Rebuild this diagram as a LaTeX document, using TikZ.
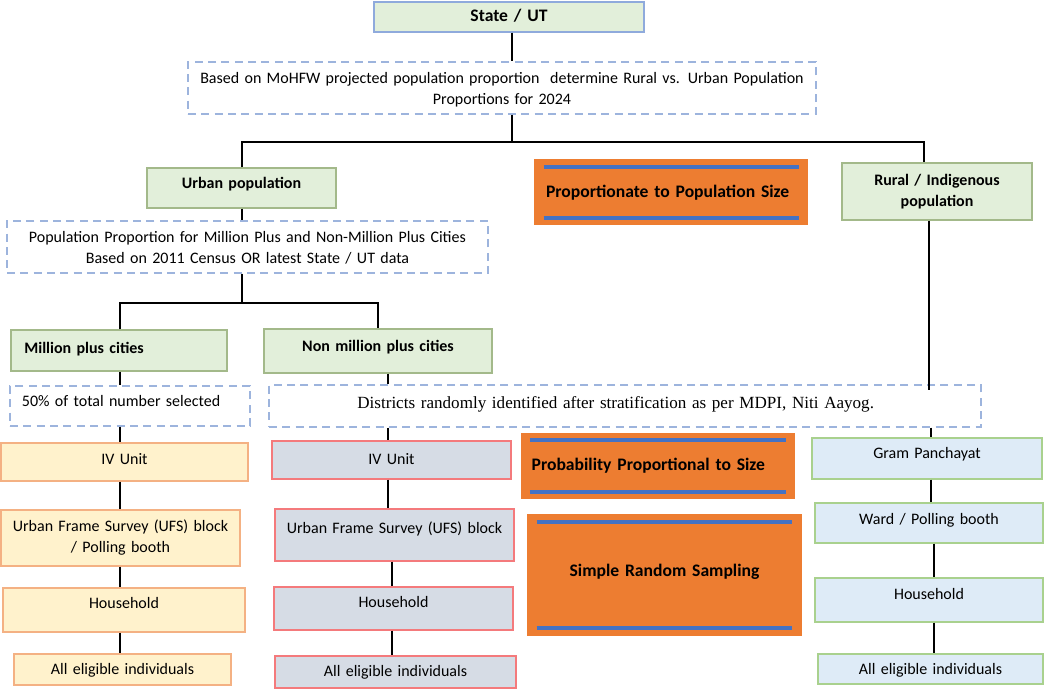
\documentclass[tikz,border=0pt]{standalone}
\usepackage{fontspec}
\setmainfont{Carlito}
\newfontfamily\tnr{Liberation Serif}
\usetikzlibrary{calc}
\definecolor{gfill}{HTML}{E2EFDA}
\definecolor{gborder}{HTML}{A3B98A}
\definecolor{sborder}{HTML}{8FAADC}
\definecolor{dashc}{HTML}{9DB4DD}
\definecolor{orangef}{HTML}{ED7D31}
\definecolor{blueln}{HTML}{4472C4}
\definecolor{yfill}{HTML}{FFF2CC}
\definecolor{yborder}{HTML}{F4B183}
\definecolor{mfill}{HTML}{D6DCE5}
\definecolor{mborder}{HTML}{F47A7C}
\definecolor{rfill}{HTML}{DEEBF7}
\definecolor{rborder}{HTML}{A9D18E}
\newcommand\bx[7]{%
  \pgfmathsetmacro\mybw{(#4-#2)*0.75}%
  \pgfmathsetmacro\mybh{(#5-#3)*0.75}%
  \node[#6, inner sep=0pt, minimum width=\mybw pt, minimum height=\mybh pt, text width=\mybw pt] (#1) at ({(#2+#4)/2},{(#3+#5)/2}) {#7};}
\newcommand\tx[2]{\raisebox{#1}[8pt][3pt]{#2}}
\newcommand\tl[3]{\raisebox{#1}[8pt][3pt]{\begin{tabular}{@{}c@{}}#2\\#3\end{tabular}}}
\begin{document}
\begin{tikzpicture}[x=0.75pt,y=-0.75pt,
  every node/.style={font=\fontsize{12}{15.75}\selectfont, align=center},
  greenbox/.style={draw=gborder, fill=gfill, line width=0.9pt, font=\fontsize{12}{15.75}\selectfont\bfseries},
  statebox/.style={draw=sborder, fill=gfill, line width=0.9pt, font=\fontsize{13.2}{15.75}\selectfont\bfseries},
  dashbox/.style={draw=dashc, line width=1pt, dash pattern=on 6pt off 4pt},
  ybox/.style={draw=yborder, fill=yfill, line width=0.9pt},
  mbox/.style={draw=mborder, fill=mfill, line width=0.9pt},
  rbox/.style={draw=rborder, fill=rfill, line width=0.9pt},
  obox/.style={fill=orangef, font=\fontsize{13.2}{15.75}\selectfont\bfseries},
  bline/.style={draw=blueln, line width=3pt},
  conn/.style={draw=black, line width=1.3pt}]
\useasboundingbox (0,0) rectangle (1044,690);

% top
\bx{state}{374}{2}{644}{32}{statebox}{\tx{-1pt}{State / UT}}
\bx{d1}{188}{62}{816}{114}{dashbox}{\tl{-1.6pt}{Based on MoHFW projected population proportion\ \ determine Rural vs. Urban Population}{Proportions for 2024}}

% second level
\bx{urban}{147}{168}{336}{208}{greenbox}{\tx{2pt}{Urban population}}
\bx{rural}{842}{163}{1032}{220}{greenbox}{\tl{-0.5pt}{Rural / Indigenous}{population}}
\bx{pps}{534}{159}{808}{225}{obox, align=left}{\hspace*{9pt}\tx{-1.75pt}{Proportionate to Population Size}}

\bx{d2}{7}{221}{488}{273}{dashbox}{\tl{-1.6pt}{Population Proportion for Million Plus and Non-Million Plus Cities}{Based on 2011 Census OR latest State / UT data}}

\bx{mill}{11}{330}{227}{371}{greenbox, align=left}{\hspace*{10pt}\tx{0pt}{Million plus cities}}
\bx{nmill}{264}{329}{492}{373}{greenbox}{\tx{2pt}{Non million plus cities}}

\bx{d3}{10}{386}{250}{426}{dashbox, align=left}{\hspace*{9pt}\tx{2pt}{50\% of total number selected}}
\bx{dist}{269}{385}{981}{427}{dashbox, font=\tnr\fontsize{12.8}{14}\selectfont}{\hspace*{-14pt}\tx{0.5pt}{Districts randomly identified after stratification as per MDPI, Niti Aayog.}}

% left column
\bx{ivL}{1}{443}{248}{481}{ybox}{\tx{0.5pt}{IV Unit}}
\bx{ufsL}{1}{510}{240}{566}{ybox}{\tl{-0.5pt}{Urban Frame Survey (UFS) block}{/ Polling booth}}
\bx{hhL}{3}{588}{245}{632}{ybox}{\tx{3.5pt}{Household}}
\bx{allL}{14}{654}{231}{685}{ybox}{\tx{-1pt}{All eligible individuals}}

% middle column
\bx{ivM}{272}{441}{511}{479}{mbox}{\tx{-1pt}{IV Unit}}
\bx{ufsM}{275}{509}{514}{561}{mbox}{\tx{3.5pt}{Urban Frame Survey (UFS) block}}
\bx{hhM}{274}{587}{513}{630}{mbox}{\tx{3pt}{Household}}
\bx{allM}{275}{656}{516}{688}{mbox}{\tx{-1pt}{All eligible individuals}}

% right column
\bx{gram}{812}{438}{1042}{479}{rbox}{\tx{2.4pt}{Gram Panchayat}}
\bx{ward}{815}{503}{1043}{543}{rbox}{\tx{1.25pt}{Ward / Polling booth}}
\bx{hhR}{815}{578}{1043}{622}{rbox}{\tx{2.75pt}{Household}}
\bx{allR}{818}{654}{1043}{684}{rbox}{\tx{-1.75pt}{All eligible individuals}}

% orange boxes
\bx{ppsz}{521}{433}{795}{499}{obox, align=left}{\hspace*{8pt}\tx{-1pt}{Probability Proportional to Size}}
\bx{srs}{527}{514}{802}{636}{obox}{\tx{1.25pt}{Simple Random Sampling}}

% blue lines in orange boxes
\draw[bline] ($(pps.north west)+(10,8)$) -- ($(pps.north east)+(-9,8)$);
\draw[bline] ($(pps.south west)+(10,-7)$) -- ($(pps.south east)+(-9,-7)$);
\draw[bline] ($(ppsz.north west)+(9,7)$) -- ($(ppsz.north east)+(-9,7)$);
\draw[bline] ($(ppsz.south west)+(9,-7)$) -- ($(ppsz.south east)+(-9,-7)$);
\draw[bline] ($(srs.north west)+(10,8)$) -- ($(srs.north east)+(-10,8)$);
\draw[bline] ($(srs.south west)+(10,-8)$) -- ($(srs.south east)+(-10,-8)$);

% junction coordinates
\coordinate (b0) at (512,142);
\coordinate (bL) at (242,142);
\coordinate (bR) at (924,142);
\coordinate (c0) at (242,303);
\coordinate (cL) at (120,303);
\coordinate (cR) at (378,303);
\coordinate (xM) at (388,0);
\coordinate (xM2) at (392,0);
\coordinate (rj) at (929,390);
\coordinate (xR) at (931,0);
\coordinate (xR2) at (934,0);

% connectors
\draw[conn] (state.south -| b0) -- (d1.north -| b0);
\draw[conn] (d1.south -| b0) -- (b0);
\draw[conn] (urban.north -| bL) -- (bL) -- (bR) -- (rural.north -| bR);
\draw[conn] (urban.south -| bL) -- (d2.north -| bL);
\draw[conn] (d2.south -| c0) -- (c0);
\draw[conn] (mill.north -| cL) -- (cL) -- (cR) -- (nmill.north -| cR);
\draw[conn] (mill.south -| cL) -- (d3.north -| cL);
\draw[conn] (d3.south -| cL) -- (ivL.north -| cL);
\draw[conn] (ivL.south -| cL) -- (ufsL.north -| cL);
\draw[conn] (ufsL.south -| cL) -- (hhL.north -| cL);
\draw[conn] (hhL.south -| cL) -- (allL.north -| cL);

\draw[conn] (nmill.south -| xM) -- (dist.north -| xM);
\draw[conn] (dist.south -| xM) -- (ivM.north -| xM);
\draw[conn] (ivM.south -| xM) -- (ufsM.north -| xM);
\draw[conn] (ufsM.south -| xM2) -- (hhM.north -| xM2);
\draw[conn] (hhM.south -| xM2) -- (allM.north -| xM2);

\draw[line width=1.1pt] (rural.south -| rj) -- (rj);
\draw[conn] (dist.south -| xR) -- (gram.north -| xR);
\draw[conn] (gram.south -| xR) -- (ward.north -| xR);
\draw[conn] (ward.south -| xR2) -- (hhR.north -| xR2);
\draw[conn] (hhR.south -| xR2) -- (allR.north -| xR2);
\end{tikzpicture}
\end{document}
